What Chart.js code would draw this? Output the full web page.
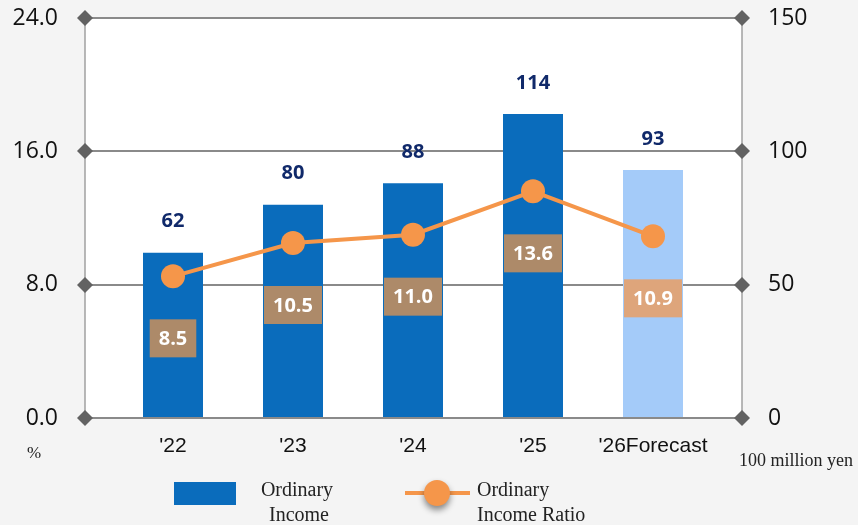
<!DOCTYPE html>
<html>
<head>
<meta charset="utf-8">
<script src="https://cdn.jsdelivr.net/npm/chart.js@4"></script>
<style>
  html, body { margin: 0; padding: 0; background: #f4f4f4; }
  #wrap { width: 858px; height: 525px; }
</style>
</head>
<body>
<div id="wrap"><canvas id="ordChart" width="858" height="525"></canvas></div>
<script>
const years = ["'22", "'23", "'24", "'25", "'26Forecast"];
const ordinaryIncome = [62, 80, 88, 114, 93];      // 100 million yen
const incomeRatio = [8.5, 10.5, 11.0, 13.6, 10.9]; // %
const ratioTicks = [0, 8, 16, 24];
const incomeTicks = [0, 50, 100, 150];

const BLUE = '#0a6cbc';
const BLUE_FC = '#a4cbf9';
const ORANGE = '#f5964a';
const BOX = '#ad8a69';
const BOX_FC = '#dea57b';
const NAVY = '#10296a';
const EXT = 28; // gridlines run past the category area

const sans = "'Open Sans', sans-serif";
const serif = "'Liberation Serif', serif";

const frame = {
  id: 'frame',
  beforeDraw(chart) {
    const { ctx, chartArea: a } = chart;
    const l = a.left - EXT, r = a.right + EXT + 1;
    ctx.save();
    ctx.fillStyle = '#f4f4f4';
    ctx.fillRect(0, 0, chart.width, chart.height);
    ctx.fillStyle = '#ffffff';
    ctx.fillRect(l, a.top, r - l, a.bottom - a.top);
    ctx.strokeStyle = '#a0a0a0';
    ctx.lineWidth = 1.5;
    [l, r].forEach(x => {
      ctx.beginPath();
      ctx.moveTo(x, a.top);
      ctx.lineTo(x, a.bottom);
      ctx.stroke();
    });
    ctx.restore();
  },
  beforeDatasetsDraw(chart) {
    const { ctx, chartArea: a, scales } = chart;
    const l = a.left - EXT, r = a.right + EXT + 1;
    ctx.save();
    ratioTicks.forEach(v => {
      if (v === 0) return;
      const y = Math.round(scales.y.getPixelForValue(v));
      ctx.strokeStyle = '#8a8a8a';
      ctx.lineWidth = 2;
      ctx.beginPath();
      ctx.moveTo(l, y);
      ctx.lineTo(r, y);
      ctx.stroke();
    });
    ctx.restore();
  },
  afterDatasetsDraw(chart) {
    const { ctx, chartArea: a, scales } = chart;
    const l = a.left - EXT, r = a.right + EXT + 1;
    ctx.save();
    ratioTicks.forEach(v => {
      const y = Math.round(scales.y.getPixelForValue(v));
      if (v === 0) {
        ctx.strokeStyle = '#8a8a8a';
        ctx.lineWidth = 2;
        ctx.beginPath();
        ctx.moveTo(l, y);
        ctx.lineTo(r, y);
        ctx.stroke();
      }
      ctx.fillStyle = '#626262';
      [l, r].forEach(x => {
        ctx.beginPath();
        ctx.moveTo(x - 8, y);
        ctx.lineTo(x, y - 8);
        ctx.lineTo(x + 8, y);
        ctx.lineTo(x, y + 8);
        ctx.closePath();
        ctx.fill();
      });
    });

    // value labels
    const barMeta = chart.getDatasetMeta(1);
    const lineMeta = chart.getDatasetMeta(0);
    ctx.textAlign = 'center';
    ctx.textBaseline = 'middle';
    barMeta.data.forEach((bar, i) => {
      ctx.fillStyle = NAVY;
      ctx.font = 'bold 20px ' + sans;
      ctx.fillText(String(ordinaryIncome[i]), bar.x, bar.y - 31);
    });
    lineMeta.data.forEach((pt, i) => {
      const txt = incomeRatio[i].toFixed(1);
      ctx.font = 'bold 20px ' + sans;
      const w = ctx.measureText(txt).width + 18;
      const cy = pt.y + 62;
      ctx.fillStyle = i === years.length - 1 ? BOX_FC : BOX;
      ctx.fillRect(pt.x - w / 2, cy - 19, w, 38);
      ctx.fillStyle = '#ffffff';
      ctx.fillText(txt, pt.x, cy + 1);
    });
    ctx.restore();
  },
  afterDraw(chart) {
    const { ctx } = chart;
    ctx.save();
    ctx.fillStyle = '#222';
    ctx.textBaseline = 'middle';
    ctx.font = '17px ' + serif;
    ctx.textAlign = 'left';
    ctx.fillText('%', 27, 454);
    ctx.font = '18px ' + serif;
    ctx.fillText('100 million yen', 739, 461);

    // legend
    ctx.fillStyle = BLUE;
    ctx.fillRect(174, 482, 62, 23);
    ctx.fillStyle = '#222';
    ctx.font = '20px ' + serif;
    ctx.textAlign = 'center';
    ctx.fillText('Ordinary', 297, 491);
    ctx.fillText('Income', 299, 516);

    ctx.strokeStyle = ORANGE;
    ctx.lineWidth = 4;
    ctx.beginPath();
    ctx.moveTo(405, 493);
    ctx.lineTo(470, 493);
    ctx.stroke();
    ctx.shadowColor = 'rgba(0,0,0,0.45)';
    ctx.shadowBlur = 6;
    ctx.shadowOffsetY = 4;
    ctx.fillStyle = ORANGE;
    ctx.beginPath();
    ctx.arc(437, 493, 13, 0, Math.PI * 2);
    ctx.fill();
    ctx.shadowColor = 'transparent';
    ctx.fillStyle = '#222';
    ctx.textAlign = 'left';
    ctx.fillText('Ordinary', 477, 491);
    ctx.fillText('Income Ratio', 477, 516);
    ctx.restore();
  }
};

new Chart(document.getElementById('ordChart'), {
  data: {
    labels: years,
    datasets: [
      {
        type: 'line',
        label: 'Ordinary Income Ratio',
        data: incomeRatio,
        yAxisID: 'y',
        borderColor: ORANGE,
        backgroundColor: ORANGE,
        borderWidth: 4,
        pointRadius: 12,
        pointHoverRadius: 12,
        pointBorderWidth: 0,
        pointBackgroundColor: ORANGE,
        order: 0
      },
      {
        type: 'bar',
        label: 'Ordinary Income',
        data: ordinaryIncome,
        yAxisID: 'y1',
        backgroundColor: ordinaryIncome.map((v, i) => i === years.length - 1 ? BLUE_FC : BLUE),
        barPercentage: 0.5,
        categoryPercentage: 1,
        order: 1
      }
    ]
  },
  options: {
    responsive: false,
    animation: false,
    layout: { padding: { top: 18, bottom: 0, left: 0, right: 0 } },
    plugins: { legend: { display: false }, tooltip: { enabled: false } },
    scales: {
      x: {
        grid: { display: false, drawTicks: true, tickLength: 16 },
        border: { display: false },
        ticks: { padding: 0, color: '#111', font: { family: "'Liberation Sans', sans-serif", size: 21 } },
        afterFit(s) { s.height = 107; }
      },
      y: {
        position: 'left',
        min: 0, max: 24,
        afterBuildTicks(s) { s.ticks = ratioTicks.map(v => ({ value: v })); },
        grid: { display: false, drawTicks: true, tickLength: 55 },
        border: { display: false },
        ticks: { padding: 0, color: '#111', font: { family: sans, size: 23 }, callback: v => v.toFixed(1) },
        afterFit(s) { s.width = 113; }
      },
      y1: {
        position: 'right',
        min: 0, max: 150,
        afterBuildTicks(s) { s.ticks = incomeTicks.map(v => ({ value: v })); },
        grid: { display: false, drawTicks: true, tickLength: 55 },
        border: { display: false },
        ticks: { padding: 0, color: '#111', font: { family: sans, size: 23 } },
        afterFit(s) { s.width = 145; }
      }
    }
  },
  plugins: [frame]
});
</script>
</body>
</html>
